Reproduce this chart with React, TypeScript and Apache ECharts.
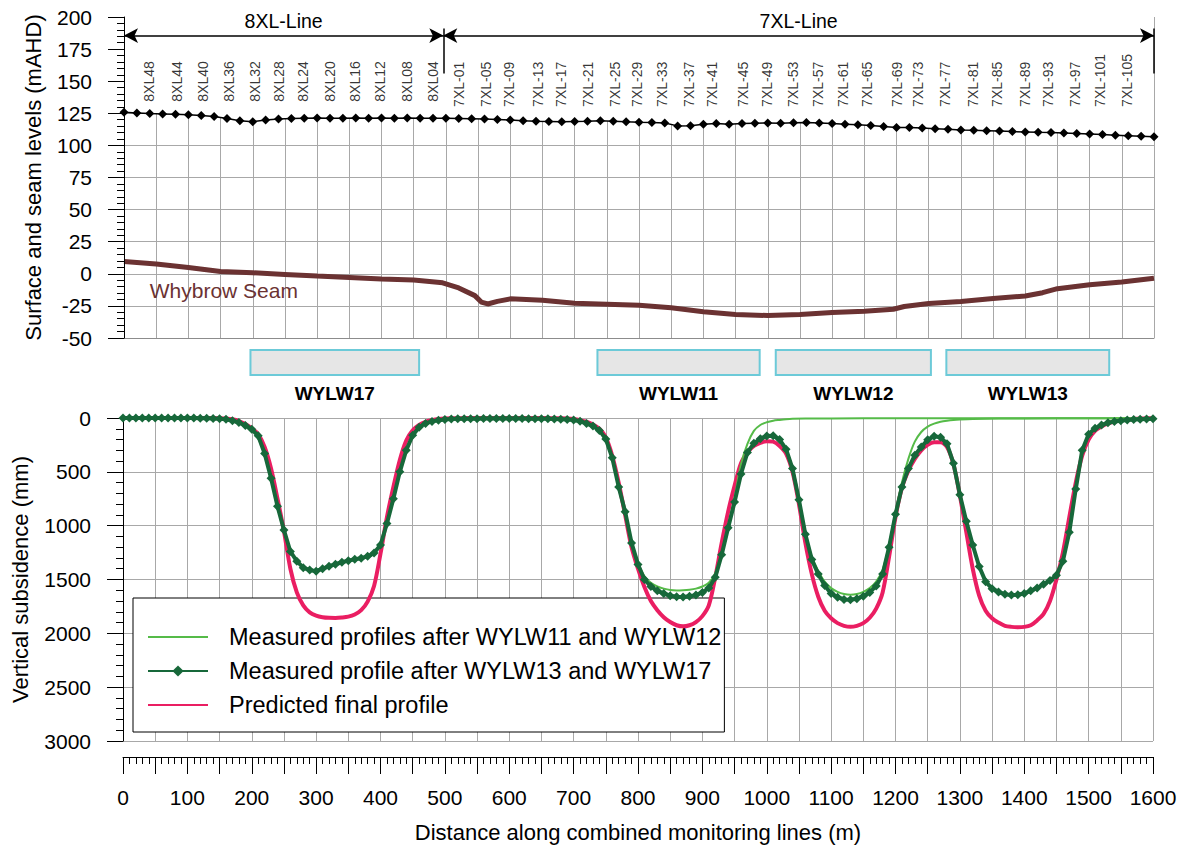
import React, { useEffect, useRef } from 'react';
import * as echarts from 'echarts';

const FONT = "'Liberation Sans', Arial, Helvetica, sans-serif";

// ---------- Upper chart: surface & seam levels (mAHD) ----------
const surfaceStepM = 20;
const surfaceLevels = [
  125.8, 125.3, 124.8, 124.5, 124.2, 123.8, 123.2, 122.5, 121.0, 119.2,
  118.5, 119.8, 120.6, 121.0, 121.2, 121.3, 121.2, 121.2, 121.3, 121.2,
  121.3, 121.2, 121.3, 121.2, 121.2, 121.2,
  121.0, 120.8, 120.5, 120.2, 119.7, 119.2, 118.8, 118.6, 118.4, 118.7,
  118.8, 119.2, 118.9, 118.4, 118.0, 117.8, 117.5, 115.2, 115.3, 116.5,
  117.0, 116.5, 117.0, 117.3, 117.4, 117.3, 117.6, 117.8, 117.5, 117.0,
  116.5, 116.0, 115.5, 114.8, 114.0, 114.0, 113.5, 113.0, 112.5, 112.0,
  111.8, 111.5, 111.2, 110.8, 110.5, 110.2, 110.0, 109.6, 109.2, 108.8,
  108.4, 108.0, 107.6, 107.2, 106.8,
];

const seamPoints: [number, number][] = [
  [0, 9.5], [50, 7.7], [100, 4.9], [150, 1.8], [200, 0.8], [250, -0.5], [300, -1.8],
  [350, -2.8], [400, -4.1], [450, -4.9], [495, -7], [520, -11], [545, -17], [555, -22],
  [565, -23.5], [580, -21.5], [600, -19.5], [650, -20.6], [700, -23], [750, -23.7],
  [800, -24.5], [850, -26.5], [900, -29.6], [950, -31.7], [1000, -32.5], [1050, -31.7],
  [1100, -30.2], [1150, -29.1], [1195, -27.6], [1212, -25.5], [1250, -23.2], [1300, -21.6],
  [1350, -19.3], [1400, -17.3], [1427, -14.7], [1450, -11.6], [1500, -8.5], [1550, -6.4],
  [1600, -3.4],
];
const seamName = 'Whybrow Seam';

const pegNames8 = ['8XL48', '8XL44', '8XL40', '8XL36', '8XL32', '8XL28', '8XL24', '8XL20', '8XL16', '8XL12', '8XL08', '8XL04'];
const pegDist8 = [39, 82, 123, 163, 203, 241, 278, 320, 359, 398, 440, 480];
const pegNames7 = ['7XL-01', '7XL-05', '7XL-09', '7XL-13', '7XL-17', '7XL-21', '7XL-25', '7XL-29', '7XL-33',
  '7XL-37', '7XL-41', '7XL-45', '7XL-49', '7XL-53', '7XL-57', '7XL-61', '7XL-65', '7XL-69', '7XL-73',
  '7XL-77', '7XL-81', '7XL-85', '7XL-89', '7XL-93', '7XL-97', '7XL-101', '7XL-105'];
const pegDist7 = [520, 562, 598, 643, 679, 721, 763, 797, 836, 878, 913, 962, 999, 1039, 1078, 1117,
  1154, 1201, 1233, 1275, 1319, 1356, 1400, 1435, 1477, 1516, 1558];
const pegLevel8 = 134;
const pegLevel7 = 130;

const lineNames = ['8XL-Line', '7XL-Line'];
const lineStartDist = 0;
const lineSplitDist = 496;
const lineEndDist = 1600;
const arrowLevel = 185.5;
const dividerTop = 191;
const dividerBottom = 156;

// ---------- Longwall panels ----------
const panelNames = ['WYLW17', 'WYLW11', 'WYLW12', 'WYLW13'];
const panelStart = [198, 737, 1014, 1279];
const panelEnd = [460, 989, 1255, 1532];

// ---------- Lower chart: vertical subsidence (mm), sampled every 10 m ----------
const profileStepM = 10;
const measuredFinal = [
  0, 0, 0, 0, 0, 0, 0, 0, 0, 0,
  0, 0, 2, 3, 4, 6, 12, 25, 42, 70,
  105, 165, 330, 560, 820, 1040, 1240, 1330, 1390, 1412,
  1423, 1400, 1378, 1358, 1340, 1325, 1312, 1302, 1285, 1255,
  1180, 980, 750, 500, 300, 160, 85, 50, 32, 20,
  14, 10, 8, 7, 6, 6, 5, 5, 5, 5,
  5, 5, 5, 6, 6, 7, 8, 9, 11, 13,
  18, 30, 50, 75, 115, 195, 370, 640, 870, 1160,
  1360, 1500, 1565, 1605, 1630, 1650, 1660, 1662, 1655, 1645,
  1620, 1580, 1480, 1270, 1020, 780, 520, 320, 235, 192,
  167, 165, 200, 290, 470, 760, 1080, 1315, 1450, 1555,
  1630, 1665, 1685, 1688, 1678, 1655, 1620, 1560, 1450, 1200,
  895, 640, 470, 345, 270, 202, 170, 178, 240, 420,
  712, 960, 1180, 1380, 1520, 1585, 1615, 1638, 1645, 1642,
  1630, 1605, 1578, 1545, 1510, 1460, 1330, 1060, 660, 300,
  150, 95, 65, 45, 33, 25, 19, 15, 12, 10,
  8,
];
const predictedFinal = [
  0, 0, 0, 0, 0, 0, 0, 0, 0, 0,
  0, 0, 0, 0, 0, 2, 5, 12, 28, 55,
  95, 150, 270, 470, 750, 1050, 1400, 1620, 1740, 1805,
  1835, 1850, 1856, 1857, 1853, 1845, 1825, 1785, 1705, 1560,
  1260, 920, 640, 390, 210, 115, 65, 35, 20, 10,
  5, 3, 2, 1, 0, 0, 0, 0, 0, 0,
  0, 0, 0, 0, 0, 0, 1, 2, 3, 5,
  10, 20, 35, 60, 100, 180, 350, 600, 900, 1200,
  1400, 1570, 1700, 1785, 1850, 1895, 1925, 1935, 1925, 1895,
  1840, 1740, 1480, 1160, 870, 630, 420, 320, 260, 230,
  215, 220, 260, 330, 500, 800, 1160, 1450, 1660, 1790,
  1860, 1905, 1930, 1940, 1930, 1905, 1855, 1770, 1620, 1290,
  920, 650, 490, 380, 300, 250, 225, 225, 270, 430,
  720, 1060, 1400, 1650, 1790, 1860, 1900, 1930, 1940, 1943,
  1940, 1925, 1880, 1820, 1700, 1500, 1250, 920, 600, 350,
  200, 120, 80, 50, 32, 20, 12, 8, 5, 3,
  2,
];
const measuredAfter11: [number, number][] = [
  [500, 14], [550, 6], [600, 5], [650, 7], [700, 18], [710, 30], [720, 50], [730, 75], [740, 115],
  [750, 195], [760, 370], [770, 640], [780, 870], [790, 1150], [800, 1340], [810, 1470], [820, 1530],
  [830, 1565], [840, 1585], [850, 1598], [860, 1602], [870, 1600], [880, 1595], [890, 1585],
  [900, 1565], [910, 1530], [920, 1440], [930, 1250], [940, 1000], [950, 740], [960, 430],
  [970, 240], [980, 120], [990, 65], [1000, 40], [1010, 25], [1020, 18], [1030, 12], [1040, 8],
  [1060, 5], [1100, 4], [1200, 3], [1300, 3], [1400, 3], [1500, 3], [1600, 2],
];
const measuredAfter12: [number, number][] = [
  [990, 190], [1000, 166], [1010, 165], [1020, 200], [1030, 290], [1040, 470], [1050, 750],
  [1060, 1060], [1070, 1290], [1080, 1420], [1090, 1520], [1100, 1580], [1110, 1615], [1120, 1635],
  [1130, 1642], [1140, 1635], [1150, 1615], [1160, 1580], [1170, 1520], [1180, 1410], [1190, 1180],
  [1200, 880], [1210, 600], [1220, 380], [1230, 220], [1240, 130], [1250, 80], [1260, 52],
  [1270, 35], [1280, 25], [1290, 18], [1300, 14], [1320, 9], [1360, 5], [1400, 4], [1500, 3],
  [1600, 2],
];
const seriesNames = [
  'Measured profiles after WYLW11 and WYLW12',
  'Measured profile after WYLW13 and WYLW17',
  'Predicted final profile',
];

const C_LIGHT = '#55bb48';
const C_DARK = '#17683a';
const C_PINK = '#ea1e62';
const C_SEAM = '#6b3232';
const C_GRID = '#a8a8a8';

function buildOption(): any {
  const pegData = [
    ...pegNames8.map((n, i) => ({ name: n, value: [pegDist8[i], pegLevel8] })),
    ...pegNames7.map((n, i) => ({ name: n, value: [pegDist7[i], pegLevel7] })),
  ];
  const plain = (v: number) => String(v);
  const axisFont = { fontFamily: FONT, fontSize: 21, color: '#000' };
  const nameFont = { fontFamily: FONT, fontSize: 22, color: '#000' };

  return {
    animation: false,
    backgroundColor: '#fff',
    textStyle: { fontFamily: FONT },
    grid: [
      { left: 124, right: 27, top: 17, height: 321 },
      { left: 123, right: 28, top: 418, height: 323 },
      { left: 123, right: 28, top: 350, height: 25 },
    ],
    legend: {
      data: [
        { name: seriesNames[0], itemStyle: { opacity: 0 } },
        { name: seriesNames[1] },
        { name: seriesNames[2], itemStyle: { opacity: 0 } },
      ],
      orient: 'vertical',
      left: 133,
      top: 598,
      z: 1,
      selectedMode: false,
      backgroundColor: '#fff',
      borderColor: '#000',
      borderWidth: 1,
      borderRadius: 0,
      padding: [27, 3, 15, 14],
      itemWidth: 60,
      itemHeight: 14,
      itemGap: 10,
      textStyle: { fontFamily: FONT, fontSize: 23.5, color: '#000', padding: [0, 0, 0, 16] },
    },
    xAxis: [
      {
        gridIndex: 0, type: 'value', min: 0, max: 1600, interval: 50,
        axisLabel: { show: false }, axisTick: { show: false },
        axisLine: { onZero: false, lineStyle: { color: '#8c8c8c' } },
        splitLine: { show: true, lineStyle: { color: C_GRID, width: 1 } },
      },
      {
        gridIndex: 1, type: 'value', min: 0, max: 1600, interval: 50, position: 'bottom', offset: 16,
        axisLine: { onZero: false, lineStyle: { color: '#000', width: 1 } },
        axisTick: { show: true, length: 17, lineStyle: { color: '#000' } },
        minorTick: { show: true, splitNumber: 5, length: 7, lineStyle: { color: '#000' } },
        axisLabel: { ...axisFont, margin: 30, formatter: (v: number) => (v % 100 === 0 ? String(v) : '') },
        splitLine: { show: true, lineStyle: { color: C_GRID, width: 1 } },
        name: 'Distance along combined monitoring lines (m)',
        nameLocation: 'middle', nameGap: 64, nameTextStyle: nameFont,
      },
      { gridIndex: 2, type: 'value', min: 0, max: 1600, show: false },
    ],
    yAxis: [
      {
        gridIndex: 0, type: 'value', min: -50, max: 200, interval: 25, z: 5,
        axisLine: { show: true, onZero: false, lineStyle: { color: '#000' } },
        axisTick: { show: true, length: 16, lineStyle: { color: '#000' } },
        minorTick: { show: true, splitNumber: 5, length: 7, lineStyle: { color: '#000' } },
        axisLabel: { ...axisFont, margin: 32, formatter: plain },
        splitLine: { show: false },
        name: 'Surface and seam levels (mAHD)',
        nameLocation: 'middle', nameGap: 80, nameTextStyle: nameFont,
      },
      {
        gridIndex: 0, type: 'value', min: -50, max: 200, interval: 25,
        axisLine: { show: false }, axisTick: { show: false }, axisLabel: { show: false },
        splitLine: { show: true, lineStyle: { color: C_GRID, width: 1 } },
      },
      {
        gridIndex: 1, type: 'value', min: 0, max: 3000, interval: 500, inverse: true,
        axisLine: { show: true, onZero: false, lineStyle: { color: '#000' } },
        axisTick: { show: true, length: 16, lineStyle: { color: '#000' } },
        minorTick: { show: true, splitNumber: 5, length: 7, lineStyle: { color: '#000' } },
        axisLabel: { ...axisFont, margin: 32, formatter: plain },
        splitLine: { show: true, lineStyle: { color: C_GRID, width: 1 } },
        name: 'Vertical subsidence (mm)',
        nameLocation: 'middle', nameGap: 92, nameTextStyle: nameFont,
      },
      { gridIndex: 2, type: 'value', min: 0, max: 1, show: false },
    ],
    series: [
      {
        name: 'Surface',
        type: 'line', xAxisIndex: 0, yAxisIndex: 0,
        data: surfaceLevels.map((v, i) => [i * surfaceStepM, v]),
        symbol: 'diamond', symbolSize: 9,
        itemStyle: { color: '#000' },
        lineStyle: { color: '#000', width: 1.5 },
        areaStyle: { color: '#fff', opacity: 1, origin: 'end' },
        z: 2,
      },
      {
        name: seamName,
        type: 'line', xAxisIndex: 0, yAxisIndex: 0,
        data: seamPoints,
        symbol: 'none',
        lineStyle: { color: C_SEAM, width: 5 },
        z: 3,
        markPoint: {
          silent: true, symbol: 'circle', symbolSize: 0,
          data: [{ coord: [40, -13], name: seamName }],
          label: { show: true, position: 'right', distance: 0, formatter: '{b}', fontFamily: FONT, fontSize: 21, color: C_SEAM },
        },
      },
      {
        name: 'Pegs',
        type: 'scatter', xAxisIndex: 0, yAxisIndex: 0,
        data: pegData,
        symbolSize: 1,
        itemStyle: { color: 'rgba(0,0,0,0)' },
        label: {
          show: true, formatter: '{b}', rotate: 90, position: 'inside', align: 'left', verticalAlign: 'middle',
          fontFamily: FONT, fontSize: 14, color: '#000',
        },
        z: 4,
        markLine: {
          silent: true,
          symbol: ['arrow', 'arrow'],
          symbolSize: [11, 14],
          lineStyle: { color: '#000', width: 1.5, type: 'solid' },
          label: { show: true, position: 'middle', formatter: '{b}', fontFamily: FONT, fontSize: 19.5, color: '#000', distance: 5 },
          data: [
            [{ coord: [lineStartDist, arrowLevel], name: lineNames[0] }, { coord: [lineSplitDist, arrowLevel] }],
            [{ coord: [lineSplitDist, arrowLevel], name: lineNames[1] }, { coord: [lineEndDist, arrowLevel] }],
            [{ coord: [lineSplitDist, dividerTop], symbol: 'none', label: { show: false } }, { coord: [lineSplitDist, dividerBottom], symbol: 'none' }],
            [{ coord: [lineEndDist, dividerTop], symbol: 'none', label: { show: false } }, { coord: [lineEndDist, dividerBottom], symbol: 'none' }],
          ],
        },
      },
      {
        name: 'Panels',
        type: 'custom', xAxisIndex: 2, yAxisIndex: 3,
        data: panelStart.map((s, i) => [s, panelEnd[i]]),
        encode: { x: [0, 1] },
        silent: true,
        renderItem: (params: any, api: any) => {
          const p1 = api.coord([api.value(0), 1]);
          const p2 = api.coord([api.value(1), 0]);
          return {
            type: 'group',
            children: [
              {
                type: 'rect',
                shape: { x: p1[0], y: p1[1], width: p2[0] - p1[0], height: p2[1] - p1[1] },
                style: { fill: '#e6e6e6', stroke: '#6ccad8', lineWidth: 2 },
              },
              {
                type: 'text',
                x: (p1[0] + p2[0]) / 2,
                y: p2[1] + 18,
                style: {
                  text: panelNames[params.dataIndex],
                  fill: '#000',
                  font: `bold 19px ${FONT}`,
                  align: 'center',
                  verticalAlign: 'middle',
                },
              },
            ],
          };
        },
      },
      {
        name: seriesNames[2],
        type: 'line', xAxisIndex: 1, yAxisIndex: 2,
        data: predictedFinal.map((v, i) => [i * profileStepM, v]),
        symbol: 'none', smooth: 0.3,
        itemStyle: { color: C_PINK },
        lineStyle: { color: C_PINK, width: 4 },
        z: 2,
      },
      {
        name: seriesNames[0],
        type: 'line', xAxisIndex: 1, yAxisIndex: 2,
        data: measuredAfter11,
        symbol: 'none', smooth: 0.3,
        itemStyle: { color: C_LIGHT },
        lineStyle: { color: C_LIGHT, width: 2 },
        z: 3,
      },
      {
        name: seriesNames[0],
        type: 'line', xAxisIndex: 1, yAxisIndex: 2,
        data: measuredAfter12,
        symbol: 'none', smooth: 0.3,
        itemStyle: { color: C_LIGHT },
        lineStyle: { color: C_LIGHT, width: 2 },
        z: 3,
      },
      {
        name: seriesNames[1],
        type: 'line', xAxisIndex: 1, yAxisIndex: 2,
        data: measuredFinal.map((v, i) => [i * profileStepM, v]),
        symbol: 'diamond', symbolSize: 9,
        itemStyle: { color: C_DARK },
        lineStyle: { color: C_DARK, width: 4 },
        z: 4,
      },
    ],
  };
}

export default function App() {
  const ref = useRef<HTMLDivElement>(null);
  useEffect(() => {
    if (!ref.current) return;
    const chart = echarts.init(ref.current, null, { renderer: 'svg' });
    chart.setOption(buildOption());
    return () => chart.dispose();
  }, []);
  return (
    <div
      ref={ref}
      style={{ position: 'fixed', left: 0, top: 0, width: 1181, height: 848, background: '#fff' }}
    />
  );
}
